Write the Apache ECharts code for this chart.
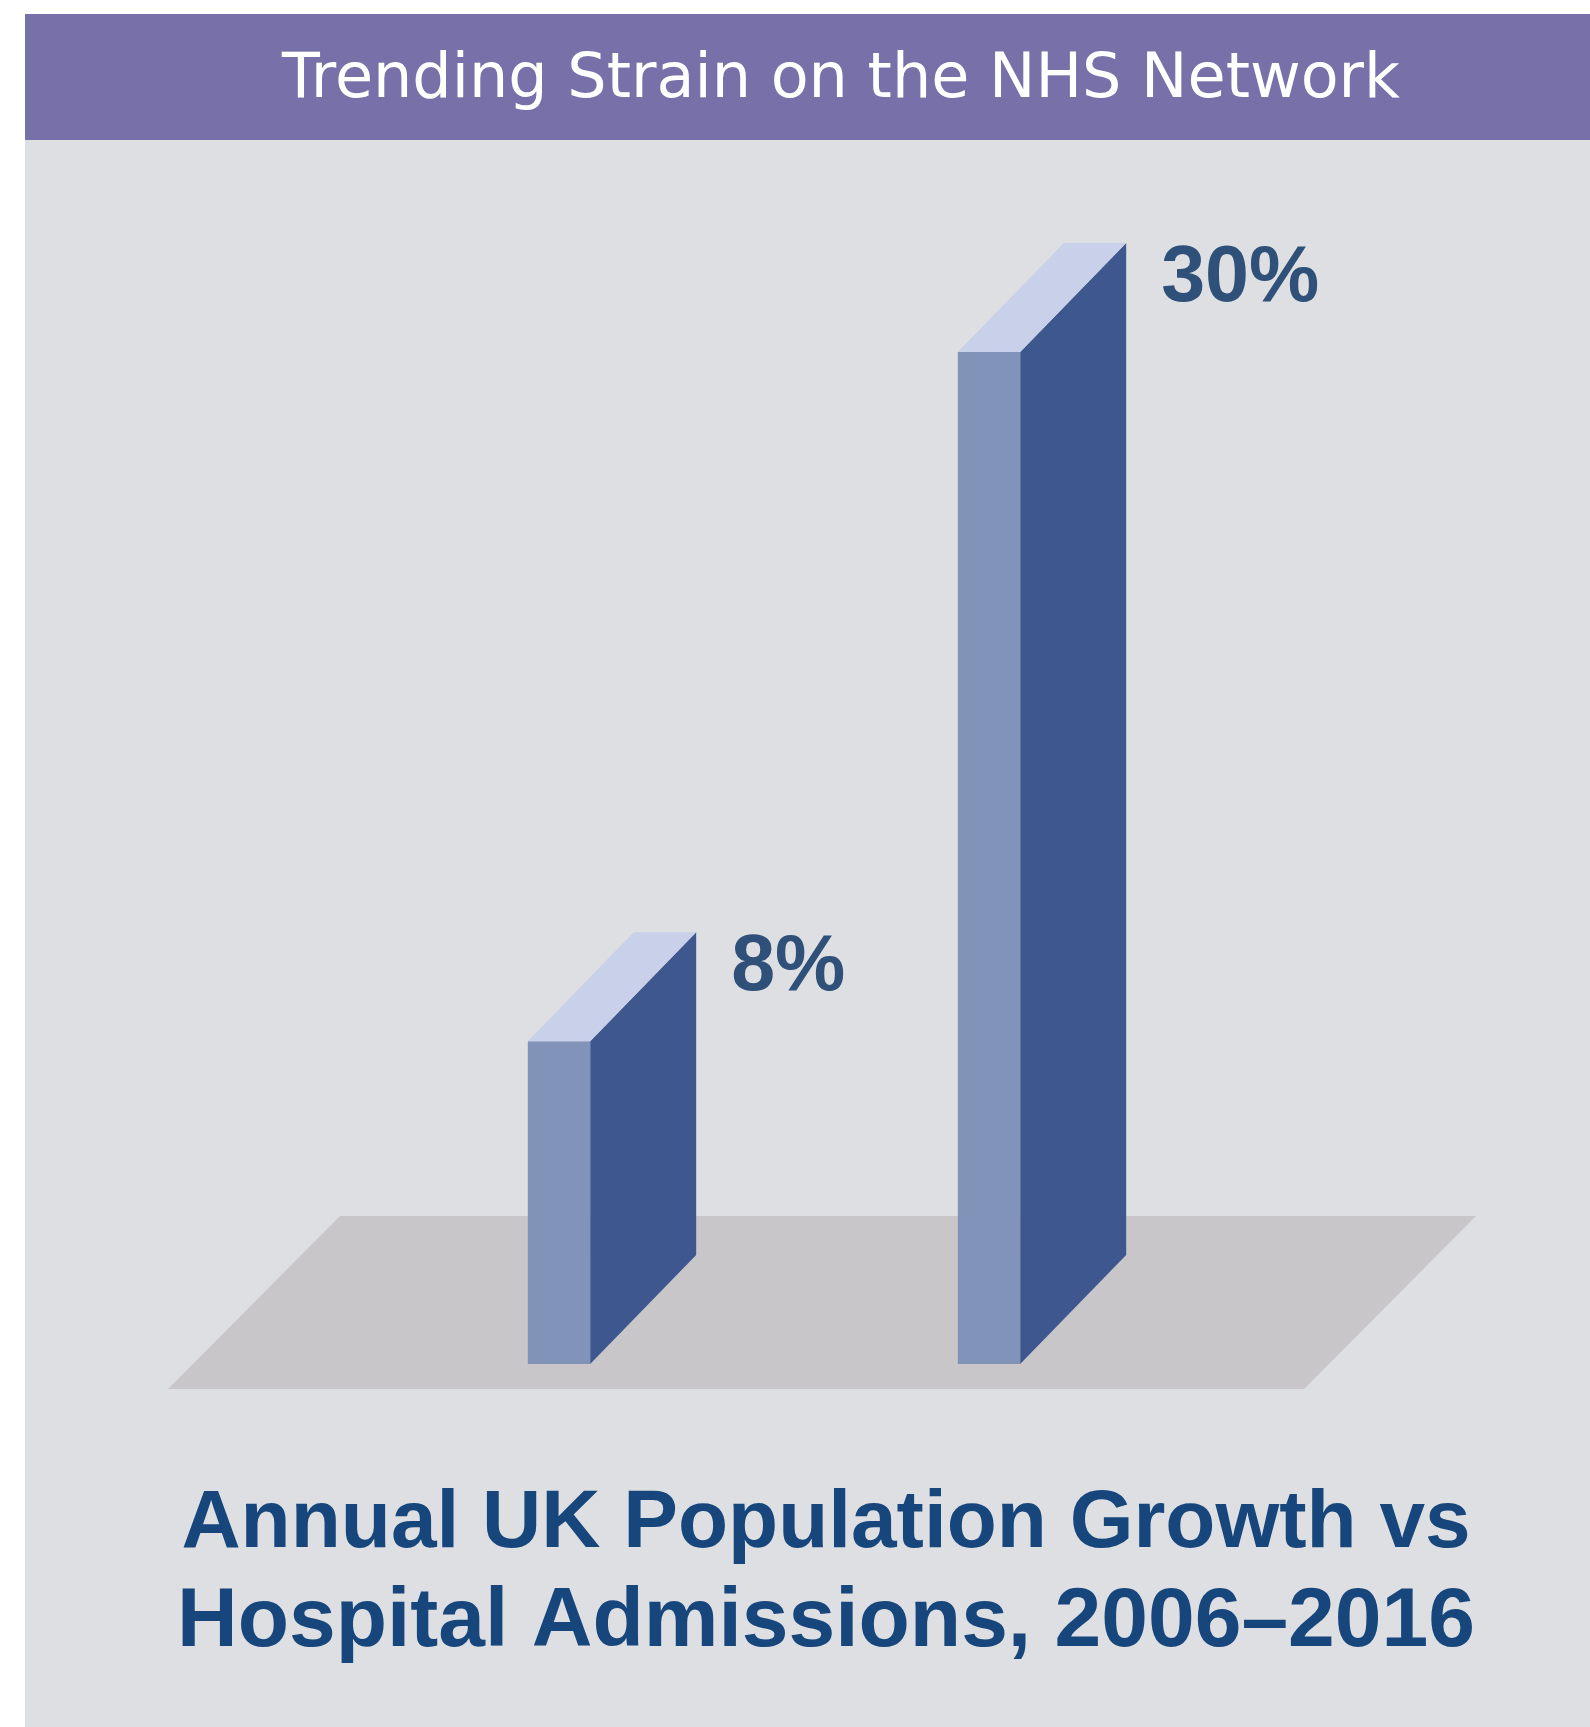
<!DOCTYPE html>
<html>
<head>
<meta charset="utf-8">
<style>
html,body{margin:0;padding:0;background:#ffffff;}
#chart{width:1590px;height:1727px;}
</style>
<script src="https://cdn.jsdelivr.net/npm/echarts@6/dist/echarts.min.js"></script>
</head>
<body>
<div id="chart"></div>
<script>
const categories = ['Population Growth', 'Hospital Admissions'];
const values = [8, 30];
const valueLabels = ['8%', '30%'];
const headerTitle = 'Trending Strain on the NHS Network';
const footerTitle = ['Annual UK Population Growth vs', 'Hospital Admissions, 2006\u20132016'];

const Y_MIN = -2.3;
const DX = 106, DY = 109;
const C_FRONT = '#8193b9', C_SIDE = '#3e588f', C_TOP = '#c9d0e9';

const chart = echarts.init(document.getElementById('chart'), null, {renderer: 'canvas'});

const option = {
  backgroundColor: '#ffffff',
  animation: false,
  grid: {left: 344, right: 386, top: 352, bottom: 363},
  xAxis: {type: 'category', data: categories, show: false},
  yAxis: {type: 'value', min: Y_MIN, max: 30, show: false},
  graphic: [
    {type: 'rect', z: -10, shape: {x: 25, y: 14, width: 1565, height: 1713}, style: {fill: '#dedfe3'}},
    {type: 'rect', z: -9, shape: {x: 25, y: 14, width: 1565, height: 126}, style: {fill: '#7870a8'}},
    {type: 'text', z: -8, x: 841, y: 81, style: {text: headerTitle, fill: '#ffffff', font: 'normal 62px "DejaVu Sans"', align: 'center', verticalAlign: 'middle'}},
    {type: 'polygon', z: -8, shape: {points: [[340, 1216], [1476, 1216], [1304, 1389], [168, 1389]]}, style: {fill: '#c8c6c9'}},
    {type: 'text', z: -8, x: 826, y: 1524, style: {text: footerTitle[0], fill: '#17467c', font: 'bold 82px "Liberation Sans"', align: 'center', verticalAlign: 'middle'}},
    {type: 'text', z: -8, x: 826, y: 1623, style: {text: footerTitle[1], fill: '#17467c', font: 'bold 84px "Liberation Sans"', align: 'center', verticalAlign: 'middle'}}
  ],
  series: [{
    type: 'custom',
    z: 5,
    data: values.map((v, i) => [i, v]),
    renderItem: function (params, api) {
      const idx = api.value(0);
      const v = api.value(1);
      const top = api.coord([idx, v]);
      const base = api.coord([idx, Y_MIN]);
      const bw = api.size([1, 0])[0] * 0.145;
      const x0 = top[0] - bw / 2, x1 = top[0] + bw / 2;
      const yt = top[1], yb = base[1];
      return {
        type: 'group',
        children: [
          {type: 'polygon', shape: {points: [[x1, yt], [x1 + DX, yt - DY], [x1 + DX, yb - DY], [x1, yb]]}, style: {fill: C_SIDE}},
          {type: 'polygon', shape: {points: [[x0, yt], [x1, yt], [x1, yb], [x0, yb]]}, style: {fill: C_FRONT}},
          {type: 'polygon', shape: {points: [[x0, yt], [x0 + DX, yt - DY], [x1 + DX, yt - DY], [x1, yt]]}, style: {fill: C_TOP}},
          {type: 'text', x: x1 + DX + 35, y: yt - DY + 36, style: {text: valueLabels[params.dataIndex], fill: '#2f5079', font: 'bold 79px "Liberation Sans"', align: 'left', verticalAlign: 'middle'}}
        ]
      };
    }
  }]
};
chart.setOption(option);
</script>
</body>
</html>
